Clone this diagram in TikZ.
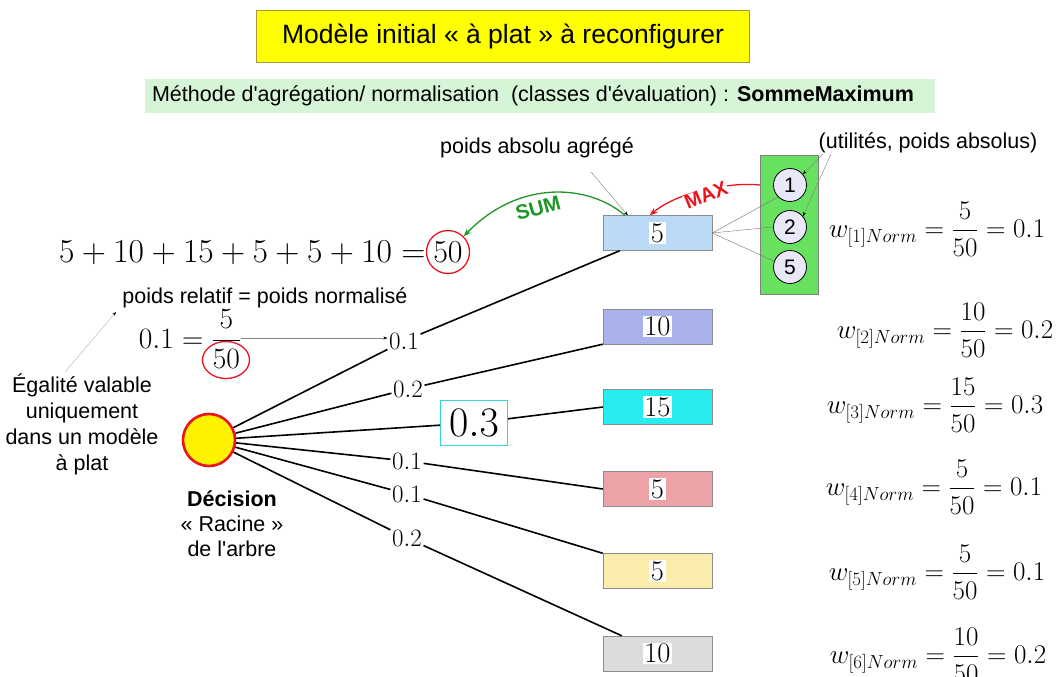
\RequirePackage{fix-cm}
\documentclass[tikz,border=0pt]{standalone}
\usepackage{fontspec}
\usepackage{amsmath}
\newfontfamily\lsans{Liberation Sans}
\usetikzlibrary{arrows.meta,shapes.geometric}
\definecolor{titleyel}{RGB}{255,255,0}
\definecolor{titlebrd}{RGB}{170,150,60}
\definecolor{bandgreen}{RGB}{214,244,214}
\definecolor{grpgreen}{RGB}{104,224,96}
\definecolor{circfill}{RGB}{232,232,248}
\definecolor{boxA}{RGB}{186,218,246}
\definecolor{boxB}{RGB}{170,178,236}
\definecolor{boxC}{RGB}{40,236,240}
\definecolor{boxD}{RGB}{236,162,166}
\definecolor{boxE}{RGB}{250,236,170}
\definecolor{boxF}{RGB}{220,220,220}
\definecolor{sumgreen}{RGB}{30,150,40}
\definecolor{maxred}{RGB}{235,20,30}
\definecolor{cyanbrd}{RGB}{50,215,215}
\begin{document}
\begin{tikzpicture}[x=1pt,y=-1pt,
  txt/.style={font=\lsans\fontsize{21.5}{25}\selectfont, inner sep=1pt},
  valbox/.style={draw=black!45, minimum width=109, minimum height=35, inner sep=0},
  valtxt/.style={fill=white, inner sep=1.5pt, font=\fontsize{28.5}{28.5}\selectfont},
  lbl/.style={font=\fontsize{25}{25}\selectfont, inner sep=1.5pt},
  wform/.style={font=\fontsize{27}{27}\selectfont, inner sep=0},
  utcirc/.style={circle, draw, thick, fill=circfill, minimum size=33, inner sep=0, font=\lsans\fontsize{21}{21}\selectfont},
  treeline/.style={line width=1.6pt, black},
  thinarrow/.style={black!50, thin, -{Stealth[length=4pt,width=3pt,black]}}
]
\useasboundingbox (0,0) rectangle (1063,677);

% title and band
\node[draw=titlebrd, fill=titleyel, minimum width=493, minimum height=52, font=\lsans\fontsize{26.5}{30}\selectfont] (title) at (503,36) {Modèle initial « à plat » à reconfigurer};
\node[fill=bandgreen, minimum width=790, minimum height=34] (band) at (540,96) {};
\node[txt] (methode) at (533,96) {Méthode d'agrégation/ normalisation\ \ (classes d'évaluation) : \textbf{SommeMaximum}};

% value boxes
\node[valbox, fill=boxA] (b1) at (657.5,233) {};
\node[valtxt] at (b1) {$5$};
\node[valbox, fill=boxB] (b2) at (657.5,326.5) {};
\node[valtxt] at (b2) {$10$};
\node[valbox, fill=boxC] (b3) at (657.5,407) {};
\node[valtxt] at (b3) {$15$};
\node[valbox, fill=boxD] (b4) at (657.5,489) {};
\node[valtxt] at (b4) {$5$};
\node[valbox, fill=boxE] (b5) at (657.5,571) {};
\node[valtxt] at (b5) {$5$};
\node[valbox, fill=boxF] (b6) at (657.5,653.5) {};
\node[valtxt] at (b6) {$10$};

% utilities group
\node[draw=black!50, fill=grpgreen, minimum width=58, minimum height=139, inner sep=0] (grp) at (789,224.5) {};
\node[utcirc] (c1) at (790,185) {1};
\node[utcirc] (c2) at (790,227) {2};
\node[utcirc] (c5) at (790,267) {5};
\draw[black!55, thin] (b1.east) -- (c1.south west);
\draw[black!55, thin] (b1.east) -- (c2.west);
\draw[black!55, thin] (b1.east) -- (c5.160);

\node[txt] (util) at (928,143) {(utilités, poids absolus)};
\coordinate (u1) at (823,154);
\coordinate (u2) at (831,154);
\draw[thinarrow] (u1) -- (c1.40);
\draw[thinarrow] (u2) -- (c2.40);

% poids absolu agrege
\node[txt] (paa) at (537,148) {poids absolu agrégé};
\coordinate (pa0) at (591,172);
\draw[thinarrow] (pa0) -- ([xshift=25pt]b1.north west);

% MAX arrow
\draw[maxred, line width=1.3pt, -{Stealth[length=8pt,width=6pt]}] (grp.west |- c1) .. controls (735,182) and (680,190) .. ([xshift=47pt]b1.north west);
\node[maxred, font=\lsans\bfseries\fontsize{20}{20}\selectfont, rotate=22, fill=white, inner sep=0.5pt] (maxl) at (706,195) {MAX};

% sum equation
\node[font=\fontsize{33.5}{33.5}\selectfont, anchor=east, inner sep=0] (sumeq) at (426,253) {$5+10+15+5+5+10=$};
\node[circle, draw=maxred, line width=1.3pt, minimum size=43, inner sep=0, font=\fontsize{32}{32}\selectfont] (c50) at (448,252) {$50$};

% SUM arrow
\draw[sumgreen, line width=1.3pt, -{Stealth[length=8pt,width=6pt]}] ([xshift=22pt]b1.north west) .. controls (590,185) and (520,178) .. (c50.north east);
\node[sumgreen, font=\lsans\bfseries\fontsize{20.5}{20.5}\selectfont, rotate=15, fill=white, inner sep=0.5pt] (suml) at (538,208) {SUM};

% poids relatif
\node[txt] (prel) at (265,298) {poids relatif = poids normalisé};
\node[font=\fontsize{29.5}{29.5}\selectfont, inner sep=0] (frac) at (190,339) {$0.1=\dfrac{5}{50}$};
\node[ellipse, draw=maxred, line width=1.3pt, minimum width=47, minimum height=37, inner sep=0] (e50) at (226,360) {};

% root
\node[circle, fill=yellow, draw=maxred, line width=2.6pt, minimum size=52, inner sep=0] (root) at (209,440) {};

% tree labels
\node[lbl] (l1) at (404,341) {$0.1$};
\node[lbl] (l2) at (408,389) {$0.2$};
\node[draw=cyanbrd, thick, font=\fontsize{42}{42}\selectfont, inner sep=3pt, minimum width=67, minimum height=45] (l3) at (474,423) {$0.3$};
\node[lbl] (l4) at (407,461) {$0.1$};
\node[lbl] (l5) at (407,494) {$0.1$};
\node[lbl] (l6) at (407,538) {$0.2$};

\draw[thinarrow] (frac.east |- 0,338) -- (l1.west |- 0,338);

\draw[treeline] (root) -- (l1);
\draw[treeline] (root) -- (l2);
\draw[treeline] (root) -- (l3);
\draw[treeline] (root) -- (l4);
\draw[treeline] (root) -- (l5);
\draw[treeline] (root) -- (l6);
\draw[treeline] (l1) -- ([xshift=17pt]b1.south west);
\draw[treeline] (l2) -- (b2.south west);
\draw[treeline] (l3) -- (b3.west);
\draw[treeline] (l4) -- (b4.west);
\draw[treeline] (l5) -- (b5.north west);
\draw[treeline] (l6) -- ([xshift=19pt]b6.north west);

% left texts
\node[txt, align=center, font=\lsans\fontsize{21.5}{26}\selectfont] (egal) at (82,424) {Égalité valable\\uniquement\\dans un modèle\\à plat};
\coordinate (eg0) at (65,372);
\coordinate (eg1) at (116,312);
\draw[black!30, thin, -{Stealth[length=4pt,width=3pt,black]}] (eg0) -- (eg1);

\node[txt, align=center, font=\lsans\fontsize{21.5}{25}\selectfont] (dec) at (232,524) {\textbf{Décision}\\« Racine »\\de l'arbre};

% normalized weight formulas
\node[wform] (w1) at (937,229) {$\displaystyle w_{[1]Norm}=\frac{5}{50}=0.1$};
\node[wform] (w2) at (945,330) {$\displaystyle w_{[2]Norm}=\frac{10}{50}=0.2$};
\node[wform] (w3) at (935,405) {$\displaystyle w_{[3]Norm}=\frac{15}{50}=0.3$};
\node[wform] (w4) at (934,487) {$\displaystyle w_{[4]Norm}=\frac{5}{50}=0.1$};
\node[wform] (w5) at (937,572) {$\displaystyle w_{[5]Norm}=\frac{5}{50}=0.1$};
\node[wform] (w6) at (938,655) {$\displaystyle w_{[6]Norm}=\frac{10}{50}=0.2$};
\end{tikzpicture}
\end{document}
